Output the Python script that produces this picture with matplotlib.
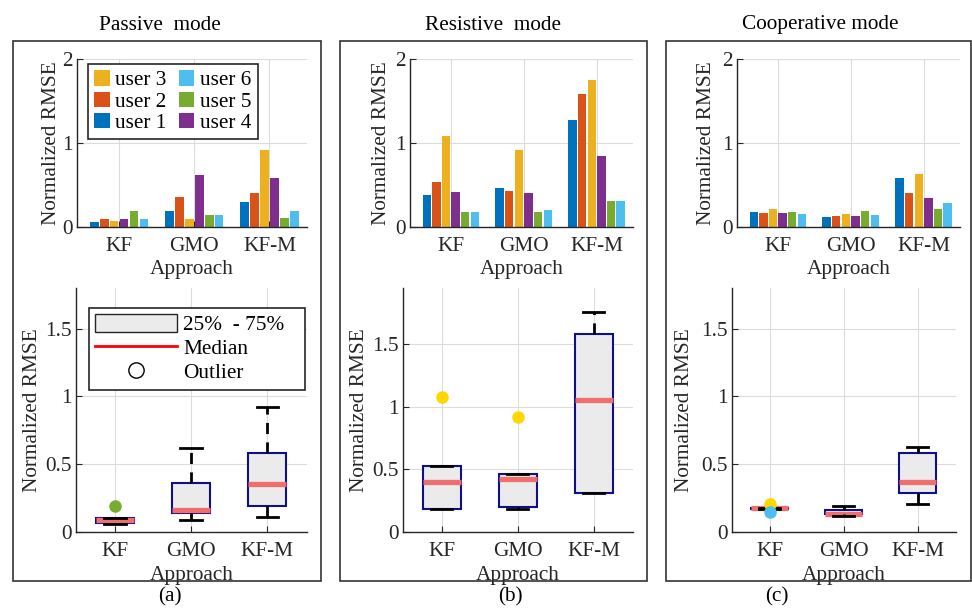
import numpy as np
import matplotlib
matplotlib.use('Agg')
import matplotlib.pyplot as plt
from matplotlib.patches import Rectangle
from matplotlib.lines import Line2D

plt.rcParams['font.family'] = ['Liberation Serif', 'DejaVu Serif']
plt.rcParams['font.size'] = 15.3

approaches = ['KF', 'GMO', 'KF-M']
users = ['user 1', 'user 2', 'user 3', 'user 4', 'user 5', 'user 6']
modes = ['Passive  mode', 'Resistive  mode', 'Cooperative mode']
tags = ['(a)', '(b)', '(c)']

# normalized RMSE per approach (rows) and user (columns)
passive = [[0.06, 0.09, 0.07, 0.09, 0.19, 0.10],
           [0.19, 0.36, 0.09, 0.62, 0.14, 0.14],
           [0.30, 0.41, 0.92, 0.58, 0.11, 0.19]]
resistive = [[0.38, 0.53, 1.08, 0.42, 0.18, 0.18],
             [0.46, 0.43, 0.92, 0.41, 0.18, 0.20],
             [1.27, 1.58, 1.75, 0.84, 0.31, 0.31]]
cooperative = [[0.18, 0.17, 0.21, 0.17, 0.18, 0.15],
               [0.12, 0.13, 0.16, 0.13, 0.19, 0.14],
               [0.58, 0.40, 0.63, 0.34, 0.21, 0.29]]
mode_data = [passive, resistive, cooperative]

bar_colors = ['#0072BD', '#D95319', '#EDB120', '#7E2F8E', '#77AC30', '#4DBEEE']
flier_colors = ['#0072BD', '#D95319', '#FFD700', '#7E2F8E', '#77AC30', '#4DBEEE']

bar_yticks = [0, 1, 2]
box_yticks = [0, 0.5, 1, 1.5]
box_ylims = [(0, 1.8), (0.09, 1.945), (0, 1.8)]

W, H = 972, 609
fig = plt.figure(figsize=(W / 100, H / 100), dpi=100)


def fig_rect(l, t, r, b):
    return [l / W, 1 - b / H, (r - l) / W, (b - t) / H]


def style_axes(ax):
    for s in ['top', 'right']:
        ax.spines[s].set_visible(False)
    for s in ['left', 'bottom']:
        ax.spines[s].set_color('#262626')
        ax.spines[s].set_linewidth(1.0)
    ax.tick_params(direction='in', length=4, color='#262626', labelcolor='#262626', pad=3)
    ax.tick_params(axis='x', pad=7.5)
    ax.grid(True, color='#DCDCDC', linewidth=0.8)
    ax.set_axisbelow(True)
    ax.set_xticks([1, 2, 3], approaches)


def box_stats(vals):
    v = np.asarray(vals)
    q1, med, q3 = np.percentile(v, [25, 50, 75], method='hazen')
    iqr = q3 - q1
    lo, hi = q1 - 1.5 * iqr - 1e-9, q3 + 1.5 * iqr + 1e-9
    inside = v[(v >= lo) & (v <= hi)]
    out = [i for i in range(len(v)) if v[i] < lo or v[i] > hi]
    return dict(med=med, q1=q1, q3=q3, whislo=inside.min(), whishi=inside.max(), fliers=[]), out


bar_boxes = [(77, 59, 307, 227), (410, 59, 633, 227), (737, 59, 960, 227)]
box_boxes = [(76, 288, 307, 532), (403, 288, 633, 532), (732, 288, 956, 532)]
bar_ylab_x = [-0.109, -0.126, -0.135]
box_ylab_x = [-0.19, -0.19, -0.21]

x = np.arange(1, 4)
slot = 0.132
for k, data in enumerate(mode_data):
    vals = np.array(data)

    # grouped bars
    ax = fig.add_axes(fig_rect(*bar_boxes[k]))
    style_axes(ax)
    bars = []
    for u in range(6):
        b = ax.bar(x + (u - 2.5) * slot, vals[:, u], width=slot * 0.88,
                   color=bar_colors[u], label=users[u])
        bars.append(b)
    ax.set_xlim(0.44, 3.5)
    ax.set_ylim(0, 2)
    ax.set_yticks(bar_yticks, [str(t) for t in bar_yticks])
    ax.set_ylabel('Normalized RMSE', color='#262626')
    ax.set_xlabel('Approach', color='#262626')
    ax.yaxis.set_label_coords(bar_ylab_x[k], 0.5)
    ax.yaxis.label.set_va('center')
    ax.xaxis.set_label_coords(0.5, -0.255)
    ax.xaxis.label.set_va('center')
    if k == 0:
        order = [2, 1, 0, 5, 4, 3]
        leg = ax.legend([bars[i] for i in order], [users[i] for i in order],
                        ncol=2, loc='upper left', bbox_to_anchor=(0.048, 0.97),
                        borderaxespad=0, fancybox=False, framealpha=1,
                        edgecolor='#262626', handlelength=0.72, handleheight=0.72,
                        handletextpad=0.25, columnspacing=0.6, labelspacing=0.06,
                        borderpad=0.3)
        leg.get_frame().set_linewidth(1.2)

    # box plots
    ax = fig.add_axes(fig_rect(*box_boxes[k]))
    style_axes(ax)
    stats = []
    fliers = []
    for a in range(3):
        s, out = box_stats(vals[a])
        stats.append(s)
        fliers.append(out)
    ax.bxp(stats, positions=x, widths=0.5, capwidths=0.28, showfliers=False,
           patch_artist=True, manage_ticks=False,
           boxprops=dict(facecolor='#EBEBEB', edgecolor='#0F0F8A', linewidth=1.5),
           medianprops=dict(color='#EF6F6F', linewidth=3.8, solid_capstyle='butt', zorder=3),
           whiskerprops=dict(color='k', linewidth=2, linestyle=(0, (4, 3)), zorder=4),
           capprops=dict(color='k', linewidth=2, zorder=4))
    for a in range(3):
        for u in fliers[a]:
            ax.plot(x[a], vals[a, u], 'o', color=flier_colors[u], markersize=8, zorder=5)
    ax.set_xlim(0.49, 3.52)
    ax.set_ylim(*box_ylims[k])
    ax.set_yticks(box_yticks, ['0', '0.5', '1', '1.5'])
    ax.set_ylabel('Normalized RMSE', color='#262626')
    ax.set_xlabel('Approach', color='#262626')
    ax.yaxis.set_label_coords(box_ylab_x[k], 0.5)
    ax.yaxis.label.set_va('center')
    ax.xaxis.set_label_coords(0.5, -0.178)
    ax.xaxis.label.set_va('center')
    if k == 0:
        handles = [Rectangle((0, 0), 1, 1, facecolor='#EBEBEB', edgecolor='#262626', linewidth=1),
                   Line2D([], [], color='red', linewidth=2),
                   Line2D([], [], linestyle='none', marker='o', markersize=11,
                          markerfacecolor='none', markeredgecolor='k', markeredgewidth=1)]
        leg = ax.legend(handles, ['25%  - 75%', 'Median', 'Outlier'],
                        loc='upper left', bbox_to_anchor=(0.056, 0.586, 0.935, 0.332),
                        mode='expand', borderaxespad=0,
                        fancybox=False, framealpha=1, edgecolor='#262626',
                        handlelength=3.85, handleheight=0.87, handletextpad=0.3,
                        labelspacing=0.14, borderpad=0.3)
        leg.get_frame().set_linewidth(1.2)

# panel frames, titles and tags
frames = [(13, 41, 321, 581), (340, 41, 647, 581), (666, 41, 971, 581)]
title_x = [160, 493, 820]
tag_x = [170, 510, 777]
for k in range(3):
    l, t, r, b = frames[k]
    fig.add_artist(Rectangle((l / W, 1 - b / H), (r - l) / W, (b - t) / H,
                             transform=fig.transFigure, fill=False,
                             edgecolor='#333333', linewidth=1.2))
    fig.text(title_x[k] / W, 1 - 25 / H, modes[k], ha='center', va='center')
    fig.text(tag_x[k] / W, 1 - 597 / H, tags[k], ha='center', va='center')

fig.savefig('out.png', dpi=100)
